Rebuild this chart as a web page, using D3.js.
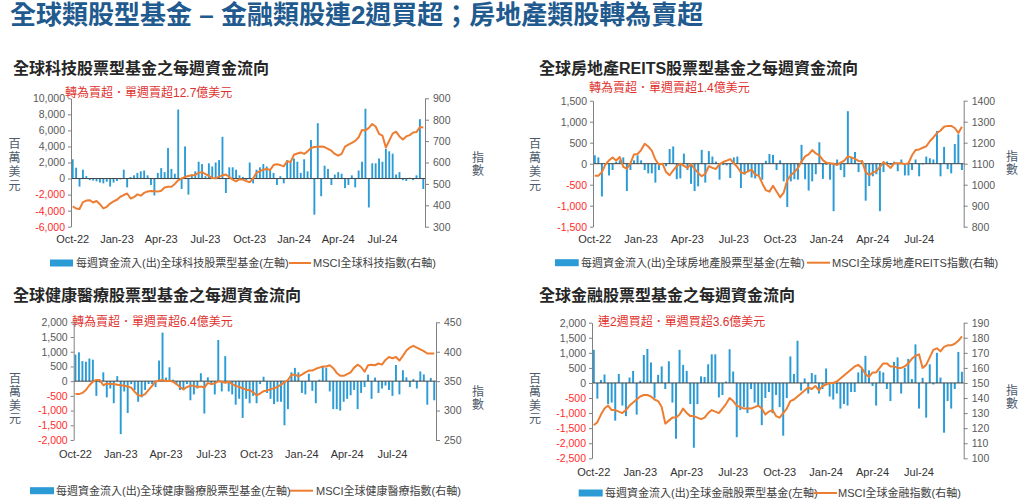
<!DOCTYPE html>
<html><head><meta charset="utf-8">
<script src="https://cdn.jsdelivr.net/npm/d3@7"></script>
<style>
body{margin:0;background:#fff;}
svg{display:block;font-family:"Liberation Sans",Arial,"Noto Sans CJK TC",sans-serif;}
</style></head><body>
<svg id="c" width="1024" height="503"></svg>
<script>
// ---------- data ----------
const xTickLabels = ["Oct-22","Jan-23","Apr-23","Jul-23","Oct-23","Jan-24","Apr-24","Jul-24"];

const techFlows = [2400,1350,-1000,1100,300,-200,-250,-350,-500,-600,
-400,-1000,-500,-300,-100,1100,-1100,200,400,700,
900,1000,400,-800,-2100,700,1300,800,3800,1200,
600,8600,-1300,4000,-2000,500,900,2100,1800,300,
1900,1500,2000,2300,5200,-1800,1400,1400,1100,400,
200,-200,2000,-600,1100,1400,1800,1500,1200,700,
-800,300,-600,2300,2000,2500,2100,700,2400,900,
4800,-4500,6900,-2200,1600,1200,-800,500,800,600,
-1200,-800,400,-1100,1000,2100,8700,-3600,1900,1900,
2500,2100,3700,3400,3100,500,800,-200,-300,100,
-200,400,7400,-1300];
const techIndex = [395,385,383,415,422,424,413,420,405,386,
393,408,418,426,440,448,455,432,438,451,
445,458,465,467,466,464,468,483,487,487,
500,517,526,533,537,540,542,552,555,546,
538,527,526,534,540,544,532,520,512,522,
520,513,508,525,552,560,566,570,565,588,
592,588,582,606,602,636,642,647,640,652,
668,672,674,675,672,664,655,640,632,640,
674,683,692,701,718,752,750,762,780,768,
734,726,670,702,735,744,722,708,722,728,
740,742,766,764];
const techLeftTicks = [-6000,-4000,-2000,0,2000,4000,6000,8000,10000];
const techRightTicks = [300,400,500,600,700,800,900];

const reitFlows = [200,150,-780,-30,-280,-150,50,80,150,-650,
-150,80,200,80,-150,-230,-230,-450,-150,-30,
-60,350,410,-370,-350,240,-150,-480,-650,-540,
330,-450,300,170,50,-380,-30,-40,-340,150,
170,-580,-260,-200,-330,-350,-280,-380,70,230,
210,-150,80,-420,-1030,-420,-370,-380,450,-370,
-640,-420,-250,510,-360,-30,-380,-1130,100,-150,
-320,1250,150,280,-200,80,-880,-530,-300,-250,
-1130,-200,50,-30,50,-180,100,-280,-280,-150,
100,-300,-20,170,130,100,780,-300,400,-130,
-230,470,700,-150];
const reitIndex = [1043,1043,1060,1097,1116,1130,1115,1132,1085,1076,
1102,1144,1146,1165,1195,1182,1162,1120,1096,1100,
1060,1045,1068,1088,1100,1090,1080,1098,1075,1056,
1040,1052,1088,1080,1075,1098,1108,1115,1122,1102,
1084,1058,1054,1064,1072,1048,1043,1006,974,967,
995,968,940,962,1022,1045,1060,1080,1110,1135,
1144,1165,1149,1140,1117,1104,1102,1100,1094,1105,
1115,1135,1130,1123,1113,1112,1060,1045,1058,1065,
1085,1108,1095,1080,1102,1102,1102,1098,1102,1140,
1165,1168,1176,1183,1207,1225,1246,1258,1276,1280,
1280,1270,1246,1276];
const reitLeftTicks = [-1500,-1000,-500,0,500,1000,1500];
const reitRightTicks = [800,900,1000,1100,1200,1300,1400];

const healthFlows = [900,980,680,660,770,730,-500,-50,300,-550,
-250,-750,170,-1800,-350,-1080,-100,-300,-700,-550,
-300,-100,-100,-200,700,1650,120,470,50,-100,
-300,-300,-100,-650,-450,-250,270,-1100,130,-100,
-450,1400,-350,850,-350,-450,-800,-600,-1250,-600,
-750,-500,-750,-100,150,-400,-600,-780,-700,-700,
-1500,-950,300,450,300,-400,-450,250,-330,-750,
50,500,450,-350,-950,-950,-1000,-700,-600,-480,
-300,-950,-400,-200,220,-600,120,-400,-250,-150,
-300,-500,550,-450,370,130,-200,70,-250,330,
230,-800,110,-650];
const healthIndex = [328,328,330,335,343,349,352,352,343,346,
345,345,344,343,342,341,339,332,326,325,
328,335,342,349,351,352,350,351,349,345,
340,336,340,342,342,340,341,339,347,345,
346,350,349,347,349,345,342,340,338,335,
335,331,326,329,333,334,336,338,340,344,
348,352,361,361,358,361,365,368,368,371,
373,375,375,377,372,364,359,359,362,365,
373,378,374,366,377,378,377,380,378,386,
391,389,391,385,393,402,407,410,407,404,
401,397,397,397];
const healthLeftTicks = [-2000,-1500,-1000,-500,0,500,1000,1500,2000];
const healthRightTicks = [250,300,350,400,450];

const finFlows = [1100,-520,100,280,-700,-650,-1250,300,-750,-1100,
180,400,-1050,70,930,1130,680,-500,270,550,
-200,720,-650,-1850,1100,600,400,-700,-2150,-700,
220,200,620,950,950,-480,-400,50,1120,380,
-1800,-900,-800,-1000,-200,-650,-800,-1400,-500,-300,
-1000,-400,-800,-1750,-500,880,300,1400,-250,150,
-350,330,270,-350,-200,480,-450,-550,-350,-850,
-700,-750,-300,-300,350,500,900,420,-100,-750,
400,350,-200,-600,700,850,-350,500,800,130,
1280,-850,170,-1150,620,-50,1000,180,-1650,-600,
-850,-200,1030,370];
const finIndex = [122,124,129,133,135,132,132,131,130,132,
135,137,139,141,142,142,141,139,138,134,
123,125,127,127,129,133,130,128,128,127,
126,127,130,132,131,130,133,136,140,138,
135,134,133,133,133,134,135,133,129,131,
132,128,127,130,133,138,139,141,143,145,
147,146,148,145,148,149,150,150,151,153,
155,157,159,161,162,160,156,154,157,157,
160,163,163,161,161,160,160,161,163,166,
168,169,160,162,167,172,173,171,174,175,
175,176,178,181];
const finLeftTicks = [-2500,-2000,-1500,-1000,-500,0,500,1000,1500,2000];
const finRightTicks = [100,110,120,130,140,150,160,170,180,190];

// ---------- drawing ----------
const BAR = "#2a9bd5", LINE = "#ed7d31";
const svg = d3.select("#c");
const fmt = v => d3.format(",")(v).replace("\u2212","-");
const fmtR = v => String(v);

svg.append("text").attr("x",10).attr("y",24)
  .attr("font-size","26px").attr("font-weight","bold").attr("fill","#215a8e")
  .text("全球類股型基金 – 金融類股連2週買超；房地產類股轉為賣超");

const panels = [
 {flows:techFlows, index:techIndex, lt:techLeftTicks, rt:techRightTicks,
  L:71, R:425, T:98.3, B:226.7, xLabY:238.5,
  title:"全球科技股票型基金之每週資金流向", tX:13, tY:68.5,
  note:"轉為賣超．單週賣超12.7億美元", nX:65, nY:93,
  uX:14.5, uY:144, uS:14, iX:478, iY:158,
  legY:263, rect:[50,73], t1X:76, ln:[289,311], t2X:313,
  leg1:"每週資金流入(出)全球科技股票型基金(左軸)", leg2:"MSCI全球科技指數(右軸)"},
 {flows:reitFlows, index:reitIndex, lt:reitLeftTicks, rt:reitRightTicks,
  L:593, R:963.7, T:100.7, B:226.7, xLabY:238.5,
  title:"全球房地產REITS股票型基金之每週資金流向", tX:539, tY:68,
  note:"轉為賣超．單週賣超1.4億美元", nX:589, nY:88,
  uX:535, uY:144, uS:14, iX:1012, iY:157,
  legY:262.7, rect:[555,578.7], t1X:581, ln:[807,830], t2X:832,
  leg1:"每週資金流入(出)全球房地產股票型基金(左軸)", leg2:"MSCI全球房地產REITS指數(右軸)"},
 {flows:healthFlows, index:healthIndex, lt:healthLeftTicks, rt:healthRightTicks,
  L:73.7, R:436, T:322.3, B:440, xLabY:453.5,
  title:"全球健康醫療股票型基金之每週資金流向", tX:13, tY:295,
  note:"轉為賣超．單週賣超6.4億美元", nX:72, nY:322,
  uX:15, uY:379, uS:13.4, iX:478, iY:392,
  legY:490.7, rect:[30,54], t1X:56, ln:[290,313], t2X:316,
  leg1:"每週資金流入(出)全球健康醫療股票型基金(左軸)", leg2:"MSCI全球健康醫療指數(右軸)"},
 {flows:finFlows, index:finIndex, lt:finLeftTicks, rt:finRightTicks,
  L:592, R:963.7, T:322.7, B:458.3, xLabY:471.7,
  title:"全球金融股票型基金之每週資金流向", tX:539, tY:295,
  note:"連2週買超．單週買超3.6億美元", nX:598, nY:322,
  uX:535, uY:379, uS:13.4, iX:1012, iY:391,
  legY:493, rect:[578.7,602.7], t1X:605, ln:[813.7,837], t2X:838,
  leg1:"每週資金流入(出)全球金融股票型基金(左軸)", leg2:"MSCI全球金融指數(右軸)"}
];

function drawPanel(p){
  const g = svg.append("g");
  const n = p.flows.length;
  const x = d3.scaleBand().domain(d3.range(n)).range([p.L,p.R]).paddingInner(0.45).paddingOuter(0.225);
  const yL = d3.scaleLinear().domain(d3.extent(p.lt)).range([p.B,p.T]);
  const yR = d3.scaleLinear().domain(d3.extent(p.rt)).range([p.B,p.T]);

  g.append("text").attr("x",p.tX).attr("y",p.tY).attr("dominant-baseline","central")
    .attr("font-size","16px").attr("font-weight","bold").attr("fill","#262626").text(p.title);
  g.append("text").attr("x",p.nX).attr("y",p.nY).attr("dominant-baseline","central")
    .attr("font-size","12px").attr("fill","#e0312d").text(p.note);

  g.append("g").selectAll("rect").data(p.flows).join("rect")
    .attr("x",(d,i)=>x(i)).attr("width",x.bandwidth())
    .attr("y",d=>yL(Math.max(0,d))).attr("height",d=>Math.abs(yL(d)-yL(0)))
    .attr("fill",BAR);

  g.append("line").attr("x1",p.L).attr("x2",p.R).attr("y1",yL(0)).attr("y2",yL(0))
    .attr("stroke","#404040").attr("stroke-width",1);

  const la = g.append("g").attr("transform",`translate(${p.L},0)`)
    .call(d3.axisLeft(yL).tickValues(p.lt).tickSize(3).tickSizeOuter(0).tickPadding(3).tickFormat(fmt));
  la.attr("font-family",null).attr("font-size",null);
  la.select(".domain").attr("stroke","#808080");
  la.selectAll(".tick line").attr("stroke","#808080");
  la.selectAll(".tick text").attr("fill",d=>d<0?"#ff2b2b":"#595959").attr("font-size","10.5px");

  const ra = g.append("g").attr("transform",`translate(${p.R},0)`)
    .call(d3.axisRight(yR).tickValues(p.rt).tickSize(4).tickSizeOuter(0).tickPadding(4).tickFormat(fmtR));
  ra.attr("font-family",null).attr("font-size",null);
  ra.select(".domain").attr("stroke","#808080");
  ra.selectAll(".tick line").attr("stroke","#808080");
  ra.selectAll(".tick text").attr("fill","#595959").attr("font-size","10.5px");

  const line = d3.line().x((d,i)=>x(i)+x.bandwidth()/2).y(d=>yR(d));
  g.append("path").datum(p.index).attr("d",line).attr("fill","none")
    .attr("stroke",LINE).attr("stroke-width",2).attr("stroke-linejoin","round");

  g.append("g").selectAll("text").data(xTickLabels).join("text")
    .attr("x",(d,k)=>x(k*13)+x.bandwidth()/2).attr("y",p.xLabY)
    .attr("text-anchor","middle").attr("dominant-baseline","central")
    .attr("font-size","11px").attr("fill","#333").text(d=>d);

  g.append("g").selectAll("text").data(Array.from("百萬美元")).join("text")
    .attr("x",p.uX).attr("y",(d,j)=>p.uY+j*p.uS).attr("text-anchor","middle")
    .attr("dominant-baseline","central").attr("font-size","12px").attr("fill","#4d5a6b").text(d=>d);
  g.append("g").selectAll("text").data(Array.from("指數")).join("text")
    .attr("x",p.iX).attr("y",(d,j)=>p.iY+j*13).attr("text-anchor","middle")
    .attr("dominant-baseline","central").attr("font-size","12px").attr("fill","#4d5a6b").text(d=>d);

  g.append("rect").attr("x",p.rect[0]).attr("y",p.legY-3.5).attr("width",p.rect[1]-p.rect[0]).attr("height",7).attr("fill",BAR);
  g.append("text").attr("x",p.t1X).attr("y",p.legY).attr("dominant-baseline","central")
    .attr("font-size","11px").attr("fill","#404040").text(p.leg1);
  g.append("line").attr("x1",p.ln[0]).attr("x2",p.ln[1]).attr("y1",p.legY).attr("y2",p.legY)
    .attr("stroke",LINE).attr("stroke-width",2);
  g.append("text").attr("x",p.t2X).attr("y",p.legY).attr("dominant-baseline","central")
    .attr("font-size","11px").attr("fill","#404040").text(p.leg2);
}
panels.forEach(drawPanel);
</script>
</body></html>
